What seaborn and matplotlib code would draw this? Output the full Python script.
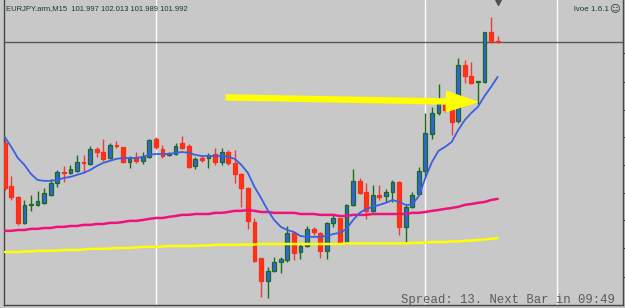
import numpy as np
import pandas as pd
import matplotlib
matplotlib.use("Agg")
import matplotlib.pyplot as plt
import seaborn as sns
from matplotlib.patches import FancyArrowPatch

# ---------------- data ----------------
opens = [101.639, 101.488, 101.450, 101.359, 101.422, 101.422, 101.429, 101.457, 101.499, 101.537,
         101.534, 101.541, 101.572, 101.565, 101.618, 101.607, 101.586, 101.632, 101.625, 101.572,
         101.590, 101.576, 101.590, 101.653, 101.618, 101.597, 101.600, 101.639, 101.628, 101.558,
         101.586, 101.586, 101.600, 101.572, 101.607, 101.569, 101.530, 101.481, 101.362, 101.236,
         101.156, 101.191, 101.222, 101.229, 101.324, 101.257, 101.278, 101.338, 101.324, 101.261,
         101.359, 101.376, 101.289, 101.422, 101.506, 101.467, 101.401, 101.457, 101.453, 101.467,
         101.502, 101.345, 101.415, 101.460, 101.541, 101.670, 101.744, 101.775, 101.754, 101.716,
         101.912, 101.873, 101.852, 101.852, 102.027, 101.997]
highs = [101.649, 101.523, 101.453, 101.439, 101.457, 101.471, 101.481, 101.513, 101.544, 101.558,
         101.562, 101.597, 101.597, 101.628, 101.625, 101.653, 101.639, 101.646, 101.625, 101.593,
         101.607, 101.607, 101.653, 101.660, 101.632, 101.607, 101.639, 101.663, 101.635, 101.590,
         101.597, 101.604, 101.621, 101.621, 101.614, 101.614, 101.534, 101.485, 101.376, 101.236,
         101.205, 101.240, 101.240, 101.348, 101.327, 101.289, 101.348, 101.345, 101.327, 101.362,
         101.387, 101.376, 101.425, 101.548, 101.516, 101.499, 101.492, 101.492, 101.478, 101.509,
         101.506, 101.422, 101.467, 101.555, 101.744, 101.765, 101.845, 101.789, 101.789, 101.936,
         101.929, 101.922, 101.856, 102.027, 102.080, 102.013]
lows = [101.474, 101.439, 101.352, 101.355, 101.401, 101.418, 101.425, 101.453, 101.485, 101.502,
        101.530, 101.537, 101.534, 101.562, 101.590, 101.576, 101.583, 101.621, 101.569, 101.551,
        101.569, 101.565, 101.586, 101.618, 101.586, 101.593, 101.597, 101.618, 101.551, 101.548,
        101.572, 101.551, 101.562, 101.562, 101.562, 101.499, 101.415, 101.338, 101.222, 101.101,
        101.097, 101.187, 101.184, 101.222, 101.229, 101.233, 101.275, 101.317, 101.236, 101.233,
        101.345, 101.285, 101.285, 101.418, 101.460, 101.373, 101.397, 101.439, 101.432, 101.432,
        101.317, 101.292, 101.411, 101.457, 101.520, 101.653, 101.737, 101.747, 101.667, 101.709,
        101.849, 101.845, 101.775, 101.849, 101.989, 101.989]
closes = [101.481, 101.450, 101.359, 101.422, 101.425, 101.436, 101.464, 101.499, 101.537, 101.534,
          101.548, 101.572, 101.569, 101.618, 101.607, 101.583, 101.632, 101.628, 101.572, 101.586,
          101.576, 101.590, 101.649, 101.625, 101.593, 101.604, 101.628, 101.621, 101.555, 101.583,
          101.579, 101.597, 101.572, 101.607, 101.569, 101.530, 101.481, 101.366, 101.226, 101.156,
          101.191, 101.222, 101.233, 101.324, 101.254, 101.278, 101.338, 101.327, 101.261, 101.359,
          101.376, 101.289, 101.422, 101.506, 101.464, 101.401, 101.457, 101.450, 101.467, 101.502,
          101.345, 101.415, 101.457, 101.541, 101.674, 101.744, 101.779, 101.754, 101.712, 101.912,
          101.873, 101.849, 101.856, 102.027, 101.992, 101.992]

ma_fast = [101.660, 101.625, 101.586, 101.562, 101.530, 101.509, 101.506, 101.506, 101.509, 101.516,
           101.520, 101.527, 101.534, 101.544, 101.558, 101.569, 101.576, 101.583, 101.586, 101.586,
           101.586, 101.590, 101.597, 101.600, 101.600, 101.600, 101.604, 101.607, 101.604, 101.597,
           101.593, 101.593, 101.593, 101.593, 101.590, 101.583, 101.562, 101.534, 101.485, 101.446,
           101.404, 101.369, 101.345, 101.334, 101.327, 101.313, 101.310, 101.310, 101.310, 101.313,
           101.320, 101.324, 101.338, 101.369, 101.394, 101.408, 101.415, 101.422, 101.429, 101.439,
           101.432, 101.422, 101.422, 101.453, 101.516, 101.572, 101.611, 101.625, 101.642, 101.684,
           101.719, 101.744, 101.765, 101.803, 101.835, 101.870]
ma_mid = [101.331, 101.331, 101.334, 101.334, 101.338, 101.338, 101.341, 101.341, 101.345, 101.345,
          101.348, 101.348, 101.352, 101.352, 101.355, 101.355, 101.359, 101.359, 101.362, 101.366,
          101.366, 101.369, 101.373, 101.376, 101.376, 101.380, 101.383, 101.387, 101.387, 101.390,
          101.390, 101.390, 101.394, 101.394, 101.397, 101.401, 101.401, 101.404, 101.401, 101.397,
          101.397, 101.394, 101.394, 101.394, 101.394, 101.390, 101.390, 101.390, 101.387, 101.387,
          101.387, 101.383, 101.383, 101.387, 101.387, 101.387, 101.390, 101.390, 101.390, 101.390,
          101.390, 101.390, 101.394, 101.394, 101.397, 101.401, 101.404, 101.408, 101.411, 101.415,
          101.422, 101.425, 101.429, 101.432, 101.439, 101.443]
ma_slow = [101.257, 101.257, 101.257, 101.259, 101.259, 101.261, 101.261, 101.261, 101.262, 101.264,
           101.264, 101.264, 101.266, 101.268, 101.268, 101.268, 101.269, 101.271, 101.271, 101.271,
           101.273, 101.275, 101.275, 101.275, 101.276, 101.278, 101.278, 101.278, 101.278, 101.278,
           101.280, 101.280, 101.282, 101.282, 101.282, 101.282, 101.283, 101.283, 101.283, 101.285,
           101.285, 101.285, 101.285, 101.285, 101.285, 101.285, 101.285, 101.285, 101.285, 101.285,
           101.285, 101.285, 101.287, 101.287, 101.287, 101.287, 101.287, 101.287, 101.287, 101.287,
           101.287, 101.287, 101.289, 101.289, 101.289, 101.292, 101.292, 101.292, 101.294, 101.294,
           101.296, 101.297, 101.299, 101.301, 101.303, 101.306]

separators = [23, 64, 84]          # bar indices of the vertical white lines
bid_price = 101.992
price_ticks = [101.954, 101.852, 101.754, 101.660, 101.562, 101.464, 101.369, 101.271, 101.170]
arrow_from = (33.7, 101.798)
arrow_to = (71.85, 101.782)

header = "EURJPY.arm,M15  101.997 102.013 101.989 101.992"
badge = "lvoe 1.6.1"
footer = "Spread: 13. Next Bar in 09:49"

# ---------------- figure ----------------
sns.set_style("white")
plt.rcParams['font.family'] = ['Liberation Sans', 'DejaVu Sans']

BG = "#c8c8c8"
fig = plt.figure(figsize=(6.25, 3.08), dpi=100, facecolor=BG)
ax = fig.add_axes([4 / 625, 3 / 308, 619 / 625, 305 / 308])
ax.set_facecolor(BG)

n = len(opens)
idx = np.arange(n)
o = np.array(opens); h = np.array(highs); l = np.array(lows); c = np.array(closes)
bull = c >= o

for s in separators:
    ax.axvline(s, color="white", lw=1.0, zorder=1)
ax.axhline(bid_price, color="#585858", lw=1.0, zorder=1)

BULL_FACE, BULL_EDGE = "#3264e0", "#1d6a1d"
BEAR_FACE, BEAR_EDGE, BEAR_WICK = "#ff3512", "#ff2a1a", "#ee3a3a"

ax.vlines(idx[bull], l[bull], h[bull], color=BULL_EDGE, lw=1.0, zorder=2)
ax.vlines(idx[~bull], l[~bull], h[~bull], color=BEAR_WICK, lw=1.0, zorder=2)
bottoms = np.minimum(o, c)
heights = np.maximum(np.abs(c - o), 0.0008)
ax.bar(idx[bull], heights[bull], bottom=bottoms[bull], width=0.58,
       color=BULL_FACE, edgecolor=BULL_EDGE, linewidth=0.9, zorder=3)
ax.bar(idx[~bull], heights[~bull], bottom=bottoms[~bull], width=0.58,
       color=BEAR_FACE, edgecolor=BEAR_EDGE, linewidth=0.9, zorder=3)

df = pd.DataFrame({"bar": idx, "fast": ma_fast, "mid": ma_mid, "slow": ma_slow})
sns.lineplot(data=df, x="bar", y="slow", ax=ax, color="#ffff00", lw=1.8, zorder=4)
sns.lineplot(data=df, x="bar", y="mid", ax=ax, color="#f0127c", lw=1.8, zorder=4)
sns.lineplot(data=df, x="bar", y="fast", ax=ax, color="#3b5fe2", lw=1.3, zorder=5)

arrow = FancyArrowPatch(arrow_from, arrow_to,
                        arrowstyle="simple,head_length=22,head_width=14.5,tail_width=3.6",
                        mutation_scale=1, color="#ffff00", shrinkA=0, shrinkB=0, zorder=6)
ax.add_patch(arrow)

ax.plot([n - 1], [0.992], marker="v", ms=5, color="#505050",
        transform=ax.get_xaxis_transform(), clip_on=False, zorder=7)

ax.set_xlim(-0.106, 94.07)
ax.set_ylim(101.0715, 102.139)
ax.set_xlabel(""); ax.set_ylabel("")
ax.set_xticks([])
ax.yaxis.tick_right()
ax.set_yticks(price_ticks)
ax.tick_params(axis="y", direction="out", length=2.5, width=0.8, colors="#404040",
               labelright=False, labelleft=False, right=True, left=False)
for side in ["left", "right", "bottom"]:
    ax.spines[side].set_visible(True)
    ax.spines[side].set_color("#454545")
    ax.spines[side].set_linewidth(1.0)
ax.spines["top"].set_visible(False)

W, H = 625, 308
fig.text(6 / W, 1 - 10.5 / H, header, fontsize=5.5, color="#1a3636",
         ha="left", va="baseline", family=["Liberation Sans", "DejaVu Sans"])
fig.text(608.5 / W, 1 - 11 / H, badge, fontsize=5.8, color="#1a3636",
         ha="right", va="baseline", family=["Liberation Sans", "DejaVu Sans"])
fig.text(614.5 / W, 1 - 8.5 / H, "\u263a", fontsize=7.5, color="#1a3636",
         ha="center", va="center", family=["DejaVu Sans"])
fig.text(615 / W, 1 - 303 / H, footer, fontsize=8.8, color="#5a5a5a",
         ha="right", va="baseline", family=["Liberation Mono", "DejaVu Sans Mono"])

fig.savefig("out.png", dpi=100, facecolor=BG)
